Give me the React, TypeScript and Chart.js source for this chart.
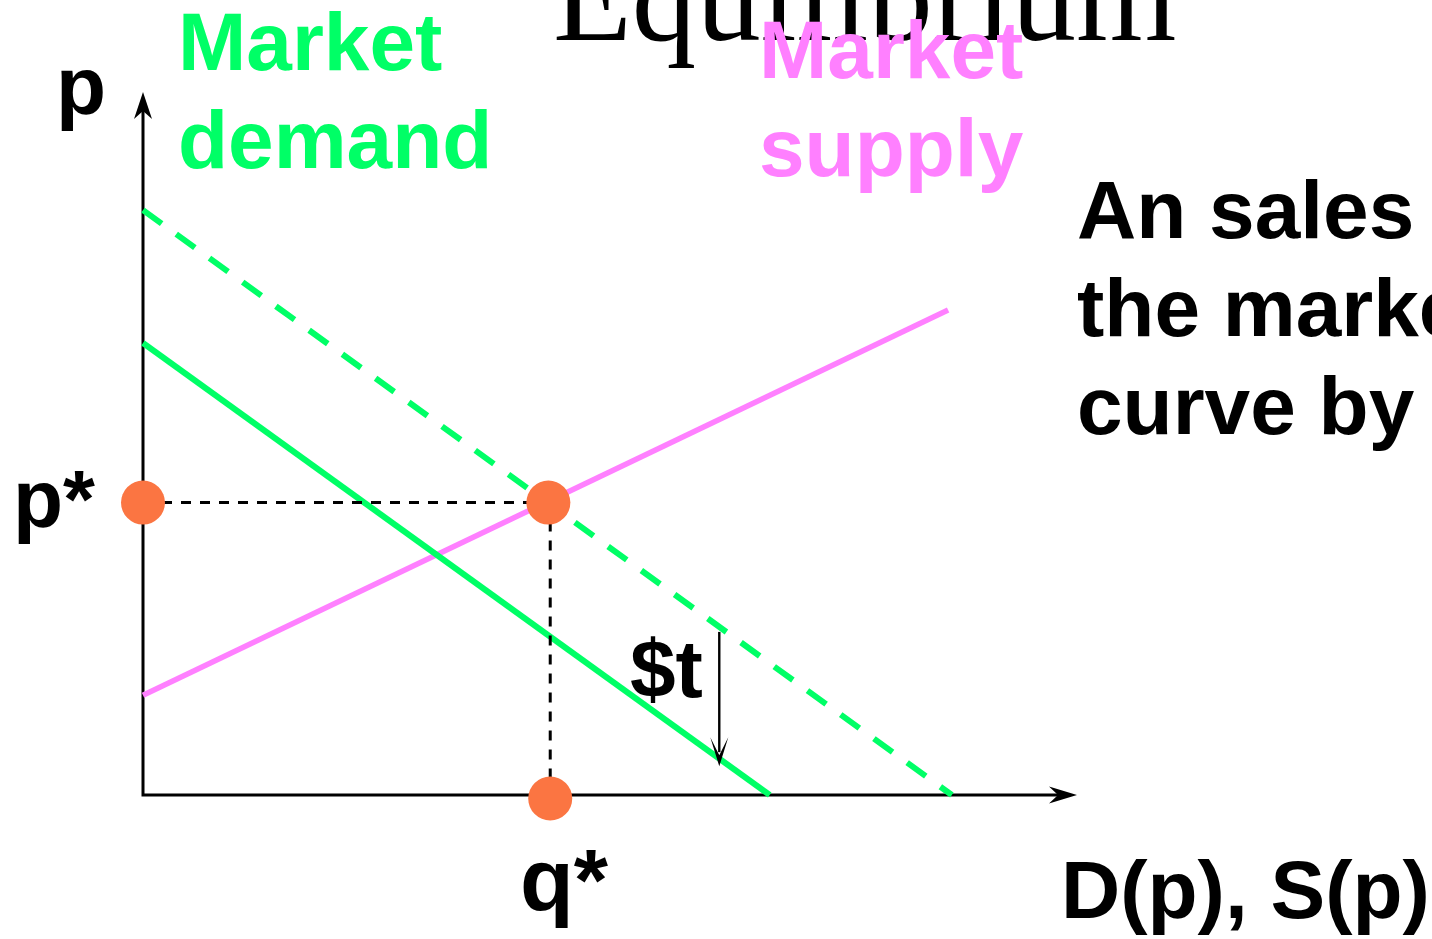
import React, { useEffect, useRef } from "react";
import { Chart, registerables } from "chart.js";

Chart.register(...registerables);

// Quantity (x) and price (y) values
const demandQ = [0, 6.71];
const demandP = [6.43, 0];
const taxedDemandQ = [0, 8.66];
const taxedDemandP = [8.32, 0];
const supplyQ = [0, 8.62];
const supplyP = [1.42, 6.9];
const equilibriumQ = [0, 4.34, 4.36];
const equilibriumP = [4.16, 4.16, -0.05];
const taxArrowQ = [6.17, 6.17];
const taxArrowP = [2.32, 0.41];
const axisMax = { q: 10, p: 10 };

const GREEN = "#00ff66";
const PINK = "#ff80ff";
const ORANGE = "#fb7542";
const SANS = '"Liberation Sans", Arial, sans-serif';

const pts = (xs: number[], ys: number[]) => xs.map((x, i) => ({ x, y: ys[i] }));

function arrowHead(
  ctx: CanvasRenderingContext2D,
  tipX: number,
  tipY: number,
  dx: number,
  dy: number,
  len: number,
  half: number,
  notch: number
) {
  const bx = tipX - dx * len;
  const by = tipY - dy * len;
  const nx = -dy;
  const ny = dx;
  ctx.beginPath();
  ctx.moveTo(tipX, tipY);
  ctx.lineTo(bx + nx * half, by + ny * half);
  ctx.lineTo(tipX - dx * notch, tipY - dy * notch);
  ctx.lineTo(bx - nx * half, by - ny * half);
  ctx.closePath();
  ctx.fill();
}

const overlay = {
  id: "overlay",
  beforeDraw(chart: any) {
    const ctx = chart.ctx as CanvasRenderingContext2D;
    ctx.save();
    ctx.fillStyle = "#000";
    ctx.font = '129px "Liberation Serif", "Times New Roman", serif';
    ctx.textBaseline = "alphabetic";
    ctx.fillText("Equilibrium", 553, 40);
    ctx.restore();
  },
  beforeDatasetsDraw(chart: any) {
    const ctx = chart.ctx as CanvasRenderingContext2D;
    const { left, right, top, bottom } = chart.chartArea;
    ctx.save();
    ctx.strokeStyle = "#000";
    ctx.fillStyle = "#000";
    ctx.lineWidth = 3;
    ctx.beginPath();
    ctx.moveTo(left, bottom + 1.5);
    ctx.lineTo(left, top + 18);
    ctx.moveTo(left - 1.5, bottom);
    ctx.lineTo(right - 18, bottom);
    ctx.stroke();
    arrowHead(ctx, left, top, 0, -1, 27, 9, 19);
    arrowHead(ctx, right, bottom, 1, 0, 28, 8.5, 19);
    ctx.restore();
  },
  afterDatasetsDraw(chart: any) {
    const ctx = chart.ctx as CanvasRenderingContext2D;
    const xs = chart.scales.x;
    const ys = chart.scales.y;
    const x = xs.getPixelForValue(taxArrowQ[0]);
    const y0 = ys.getPixelForValue(taxArrowP[0]);
    const y1 = ys.getPixelForValue(taxArrowP[1]);
    ctx.save();
    ctx.strokeStyle = "#000";
    ctx.fillStyle = "#000";
    ctx.lineWidth = 2.4;
    ctx.beginPath();
    ctx.moveTo(x, y0);
    ctx.lineTo(x, y1 - 14);
    ctx.stroke();
    arrowHead(ctx, x, y1, 0, 1, 29, 9, 11);
    ctx.restore();
  },
  afterDraw(chart: any) {
    const ctx = chart.ctx as CanvasRenderingContext2D;
    ctx.save();
    ctx.textBaseline = "alphabetic";
    ctx.font = `bold 82px ${SANS}`;

    ctx.fillStyle = GREEN;
    ctx.fillText("Market", 178, 70);
    ctx.fillText("demand", 178, 168);

    ctx.fillStyle = PINK;
    ctx.fillText("Market", 759, 78);
    ctx.fillText("supply", 759, 176);

    ctx.fillStyle = "#000";
    ctx.fillText("p", 56, 114);
    ctx.fillText("p*", 13, 527);
    ctx.fillText("D(p), S(p)", 1061, 918);
    ctx.fillText("$t", 630, 697);

    ctx.fillText("An sales tax raises", 1077, 238);
    ctx.fillText("the market demand", 1077, 336);
    ctx.fillText("curve by $t", 1077, 434);

    ctx.font = `bold 88px ${SANS}`;
    ctx.fillText("q*", 520, 910);
    ctx.restore();
  },
};

export default function App() {
  const ref = useRef<HTMLCanvasElement | null>(null);

  useEffect(() => {
    if (!ref.current) return;
    const chart = new Chart(ref.current, {
      type: "scatter",
      data: {
        datasets: [
          {
            label: "Equilibrium",
            data: pts(equilibriumQ, equilibriumP),
            showLine: false,
            pointRadius: 22,
            pointHoverRadius: 22,
            pointBackgroundColor: ORANGE,
            pointBorderWidth: 0,
            order: 0,
            clip: false,
          } as any,
          {
            label: "p* guide",
            data: pts([equilibriumQ[0], equilibriumQ[1]], [equilibriumP[0], equilibriumP[1]]),
            showLine: true,
            borderColor: "#000",
            borderWidth: 3,
            borderDash: [10, 9],
            pointRadius: 0,
            order: 1,
            clip: false,
          } as any,
          {
            label: "q* guide",
            data: pts([equilibriumQ[2], equilibriumQ[2]], [equilibriumP[1], 0]),
            showLine: true,
            borderColor: "#000",
            borderWidth: 3,
            borderDash: [10, 9],
            pointRadius: 0,
            order: 1,
            clip: false,
          } as any,
          {
            label: "Market demand",
            data: pts(demandQ, demandP),
            showLine: true,
            borderColor: GREEN,
            borderWidth: 6,
            borderCapStyle: "butt",
            pointRadius: 0,
            order: 2,
            clip: false,
          } as any,
          {
            label: "Market demand + tax",
            data: pts(taxedDemandQ, taxedDemandP),
            showLine: true,
            borderColor: GREEN,
            borderWidth: 6,
            borderDash: [23, 18],
            borderCapStyle: "butt",
            pointRadius: 0,
            order: 3,
            clip: false,
          } as any,
          {
            label: "Market supply",
            data: pts(supplyQ, supplyP),
            showLine: true,
            borderColor: PINK,
            borderWidth: 5.5,
            borderCapStyle: "butt",
            pointRadius: 0,
            order: 4,
            clip: false,
          } as any,
        ],
      },
      options: {
        responsive: false,
        animation: false,
        events: [],
        layout: { padding: { left: 143, right: 355, top: 92, bottom: 144 } },
        plugins: { legend: { display: false }, tooltip: { enabled: false } },
        scales: {
          x: { type: "linear", min: 0, max: axisMax.q, display: false },
          y: { type: "linear", min: 0, max: axisMax.p, display: false },
        },
      },
      plugins: [overlay],
    });
    return () => chart.destroy();
  }, []);

  return (
    <div style={{ position: "absolute", left: 0, top: 0, width: 1432, height: 939, background: "#fff" }}>
      <canvas ref={ref} width={1432} height={939} style={{ display: "block" }} />
    </div>
  );
}
